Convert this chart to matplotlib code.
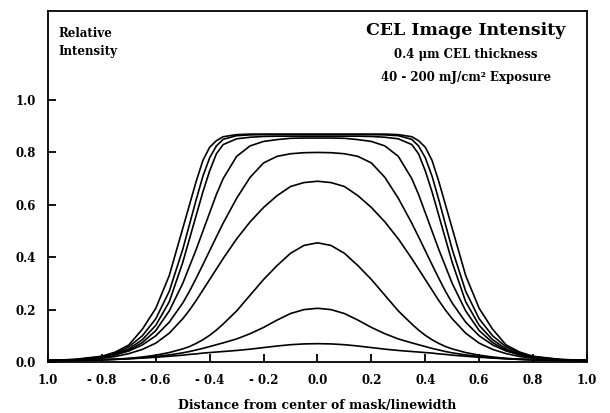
import numpy as np
import matplotlib
matplotlib.use('Agg')
import matplotlib.pyplot as plt

# distance from mask center (positive half, curves are symmetric)
x_half = [0.0, 0.05, 0.1, 0.15, 0.2, 0.25, 0.3, 0.35, 0.375, 0.4, 0.425, 0.45, 0.475,
          0.5, 0.55, 0.6, 0.65, 0.7, 0.75, 0.8, 0.9, 1.0]

# relative intensity, one curve per exposure dose (high -> low)
i200 = [.870, .870, .870, .870, .870, .870, .868, .860, .845, .820, .770, .690, .600,
        .510, .330, .205, .125, .065, .038, .022, .010, .006]
i180 = [.868, .868, .868, .868, .868, .867, .864, .850, .825, .780, .710, .620, .525,
        .430, .270, .165, .100, .058, .034, .020, .009, .006]
i160 = [.862, .862, .862, .862, .861, .858, .852, .830, .795, .730, .650, .560, .470,
        .380, .230, .140, .085, .050, .030, .018, .008, .006]
i140 = [.855, .855, .854, .849, .842, .825, .785, .700, .640, .570, .500, .430, .365,
        .300, .195, .120, .074, .045, .027, .017, .008, .006]
i120 = [.800, .799, .795, .785, .760, .705, .625, .530, .478, .425, .372, .320, .270,
        .225, .152, .100, .065, .042, .028, .018, .009, .006]
i100 = [.690, .685, .670, .635, .590, .535, .470, .395, .355, .315, .275, .235, .198,
        .165, .110, .072, .048, .032, .021, .014, .008, .006]
i80 = [.455, .445, .415, .368, .315, .255, .195, .145, .122, .102, .085, .071, .059,
       .050, .036, .026, .019, .014, .011, .009, .007, .005]
i60 = [.205, .200, .185, .160, .132, .108, .088, .073, .066, .059, .052, .046, .040,
       .035, .027, .021, .016, .013, .010, .008, .006, .005]
i40 = [.070, .069, .066, .061, .055, .049, .044, .040, .038, .036, .034, .031, .029,
       .026, .022, .018, .015, .012, .010, .008, .006, .005]
curves = [i200, i180, i160, i140, i120, i100, i80, i60, i40]

xticks = [-1.0, -0.8, -0.6, -0.4, -0.2, 0.0, 0.2, 0.4, 0.6, 0.8, 1.0]
xlabels = ['1.0', '- 0.8', '- 0.6', '- 0.4', '- 0.2', '0.0', '0.2', '0.4', '0.6', '0.8', '1.0']
yticks = [0.0, 0.2, 0.4, 0.6, 0.8, 1.0]
ylabels = ['0.0', '0.2', '0.4', '0.6', '0.8', '1.0']

plt.rcParams['font.family'] = ['DejaVu Serif']
plt.rcParams['font.weight'] = 'bold'

fig = plt.figure(figsize=(6.1, 4.13), dpi=100)
ax = fig.add_axes([0.0787, 0.1235, 0.8835, 0.8499])

xh = np.array(x_half)
x = np.concatenate([-xh[::-1], xh[1:]])
for c in curves:
    c = np.array(c)
    y = np.concatenate([c[::-1], c[1:]])
    ax.plot(x, y, color='black', lw=1.2)

ax.set_xlim(-1.0, 1.0)
ax.set_ylim(0.0, 1.34)
ax.set_xticks(xticks)
ax.set_xticklabels(xlabels)
ax.set_yticks(yticks)
ax.set_yticklabels(ylabels)
ax.tick_params(direction='in', length=6, width=1.3, labelsize=8.5, colors='black')
ax.tick_params(axis='x', pad=9)
ax.tick_params(axis='y', pad=9)
for s in ax.spines.values():
    s.set_linewidth(1.3)

ax.set_xlabel('Distance from center of mask/linewidth', fontsize=9, fontweight='bold', labelpad=8)

ax.text(0.02, 0.955, 'Relative\nIntensity', transform=ax.transAxes, fontsize=8.5,
        fontweight='bold', va='top', ha='left', linespacing=1.5)
ax.text(0.775, 0.945, 'CEL Image Intensity', transform=ax.transAxes, fontsize=12.5,
        fontweight='bold', ha='center', va='center')
ax.text(0.775, 0.875, '0.4 μm CEL thickness', transform=ax.transAxes, fontsize=8.5,
        fontweight='bold', ha='center', va='center')
ax.text(0.775, 0.81, '40 - 200 mJ/cm² Exposure', transform=ax.transAxes, fontsize=8.5,
        fontweight='bold', ha='center', va='center')

plt.savefig('out.png', dpi=100)
